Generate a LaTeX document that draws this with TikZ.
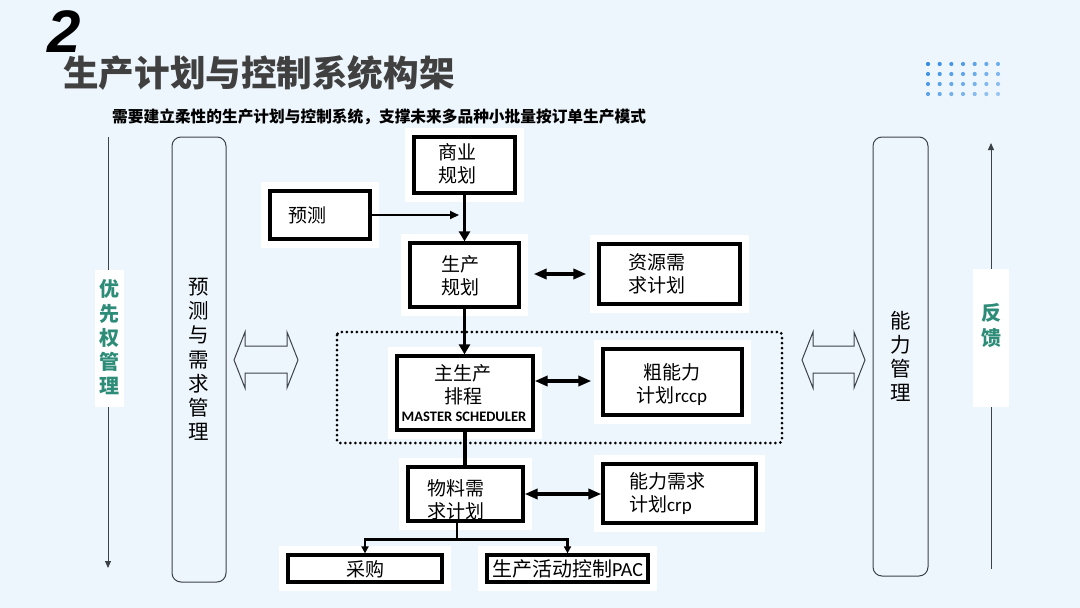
\documentclass[tikz,border=0pt]{standalone}
\usepackage{fontspec}
\setmainfont{Noto Sans CJK SC}
\newfontfamily\lat{Carlito}
\newfontfamily\numfont{Liberation Sans}
\usetikzlibrary{arrows.meta,calc}
\definecolor{bg}{RGB}{238,246,253}
\definecolor{mygreen}{RGB}{45,140,120}
\definecolor{titlegray}{RGB}{64,64,64}
\definecolor{linegray}{RGB}{60,66,72}
\definecolor{dotblue}{RGB}{52,140,228}
\tikzset{
  box/.style={draw=black, line width=3.2pt, fill=white, inner sep=0pt,
    preaction={draw=white, line width=18pt}},
  txt/.style={font=\fontsize{19}{23}\selectfont, align=center, inner sep=0pt},
  side/.style={draw=linegray, line width=1pt, rounded corners=9pt},
  vtxt/.style={font=\fontsize{20.5}{24.2}\selectfont, align=center, inner sep=0pt},
  gtxt/.style={font=\fontsize{20}{24.3}\selectfont\bfseries, text=mygreen, align=center, inner sep=0pt},
  thinarr/.style={draw=linegray, line width=1pt, -{Triangle[length=7pt,width=6pt]}},
  arr/.style={line width=3.4pt, -{Triangle[length=10pt,width=11pt]}},
  arrthin/.style={line width=2.2pt, -{Triangle[length=9pt,width=8pt]}},
  dbl/.style={line width=3.4pt, {Triangle[length=13pt,width=10pt]}-{Triangle[length=13pt,width=10pt]}},
  treearr/.style={line width=2.4pt, -{Triangle[length=7pt,width=7pt]}},
  hollow/.style={draw=linegray, line width=1pt},
  labelbox/.style={fill=white, draw=none, inner sep=0pt}
}
\begin{document}
\begin{tikzpicture}[x=1pt,y=-1pt]
\fill[bg] (0,0) rectangle (1080,608);
\useasboundingbox (0,0) rectangle (1080,608);

% title
\node[font=\numfont\fontsize{60}{60}\selectfont\bfseries\itshape, inner sep=0pt] (num) at (64,32) {2};
\node[font=\fontsize{35.6}{40}\selectfont\bfseries, text=titlegray, anchor=west, inner sep=0pt] (title) at (63,73) {生产计划与控制系统构架};
\node[font=\fontsize{15.7}{18}\selectfont\bfseries, anchor=west, inner sep=0pt] (subtitle) at (112,116.5) {需要建立柔性的生产计划与控制系统，支撑未来多品种小批量按订单生产模式};

% dots
\foreach \i in {0,...,6}{
  \foreach \j in {0,...,3}{
    \pgfmathsetmacro{\pct}{100-5*\i-7*\j}
    \fill[dotblue!\pct!white] (928+11.67*\i,64+10*\j) circle (2.1);
  }
}

% left priority arrow
\coordinate (ltop) at (108,137);
\coordinate (lbot) at (108,568);
\draw[thinarr] (ltop) -- (lbot);
\node[labelbox, minimum width=29pt, minimum height=137pt] (lbox) at (109.5,338.5) {};
\node[gtxt] (ltext) at (109.5,337.5) {优\\先\\权\\管\\理};

% right feedback arrow
\coordinate (rbot) at (991,569);
\coordinate (rtop) at (991,143);
\draw[thinarr] (rbot) -- (rtop);
\node[labelbox, minimum width=36pt, minimum height=138pt] (rbox) at (991,338) {};
\node[gtxt] (rtext) at (991,325.5) {反\\馈};

% side rounded rectangles
\node[side, minimum width=54pt, minimum height=445pt, inner sep=0pt] (dm) at (199,359.5) {};
\node[vtxt] (dmt) at (199,359.5) {预\\测\\与\\需\\求\\管\\理};
\node[side, minimum width=55pt, minimum height=439pt, inner sep=0pt] (cm) at (900.5,356.5) {};
\node[vtxt] (cmt) at (900.5,356.5) {能\\力\\管\\理};

% hollow double arrows
\draw[hollow] (234,360) -- (245,332) -- (245,346) -- (287,346) -- (287,332) -- (298,360)
  -- (287,388) -- (287,373) -- (245,373) -- (245,388) -- cycle;
\draw[hollow] (802,360) -- (813,332) -- (813,346) -- (854,346) -- (854,332) -- (865,360)
  -- (854,388) -- (854,373) -- (813,373) -- (813,388) -- cycle;

% boxes
\node[box, minimum width=101pt, minimum height=56pt] (biz) at (464.5,165) {};
\node[txt] (bizt) at (457,164) {商业\\规划};
\node[box, minimum width=100pt, minimum height=48pt] (fc) at (320,215) {};
\node[txt] (fct) at (307.5,215) {预测};
\node[box, minimum width=109pt, minimum height=64pt] (pp) at (464.5,275) {};
\node[txt] (ppt) at (460,276) {生产\\规划};
\node[box, minimum width=141pt, minimum height=60pt] (rr) at (669.5,274) {};
\node[txt] (rrt) at (656.5,274) {资源需\\求计划};
\node[box, minimum width=136pt, minimum height=74pt] (mps) at (465,393) {};
\node[txt] (mpst) at (463,385) {主生产\\排程};
\node[font=\lat\fontsize{14.5}{15}\selectfont\bfseries, inner sep=0pt] (mpse) at (464,417) {MASTER SCHEDULER};
\node[box, minimum width=139pt, minimum height=66pt] (rccp) at (672.5,382) {};
\node[txt] (rccpt) at (672,385) {粗能力\\计划{\lat rccp}};
\node[box, minimum width=115pt, minimum height=54pt] (mrp) at (465.5,494) {};
\node[txt] (mrpt) at (456,499.5) {物料需\\求计划};
\node[box, minimum width=153pt, minimum height=59pt] (crp) at (679.5,493.5) {};
\node[txt, align=left, anchor=west] (crpt) at (629,494) {能力需求\\计划{\lat crp}};
\node[box, minimum width=154pt, minimum height=27pt] (cg) at (365,568.5) {};
\node[txt] (cgt) at (365,569) {采购};
\node[box, minimum width=161pt, minimum height=27pt] (pac) at (567.5,568.5) {};
\node[txt, font=\fontsize{20}{23}\selectfont] (pact) at (567.5,569) {生产活动控制{\lat PAC}};

% dotted frame
\draw[line width=3pt, dash pattern=on 0pt off 5pt, line cap=round, rounded corners=3pt] (337,332) rectangle (782,443);

% connectors
\coordinate (fcend) at (459,215);
\draw[arrthin] (fc.east) -- (fcend);
\draw[arr] (biz.south) -- (pp.north);
\draw[dbl] ($(pp.east)+(13,-1)$) -- ($(rr.west)+(-11,0)$);
\draw[arr] (pp.south) -- (pp.south |- mps.north);
\draw[dbl] ($(mps.east)+(0,-12)$) -- ($(rccp.west)+(-10,-1)$);
\draw[line width=3.4pt] (mps.south) -- (mps.south |- mrp.north);
\draw[dbl] (mrp.east) -- (crp.west |- mrp.east);
\coordinate (split) at ($(mrp.south)+(-8.5,17)$);
\draw[treearr] ($(mrp.south)+(-8.5,0)$) -- (split) -| (cg.north);
\draw[treearr] (split) -| (pac.north);
\end{tikzpicture}
\end{document}
